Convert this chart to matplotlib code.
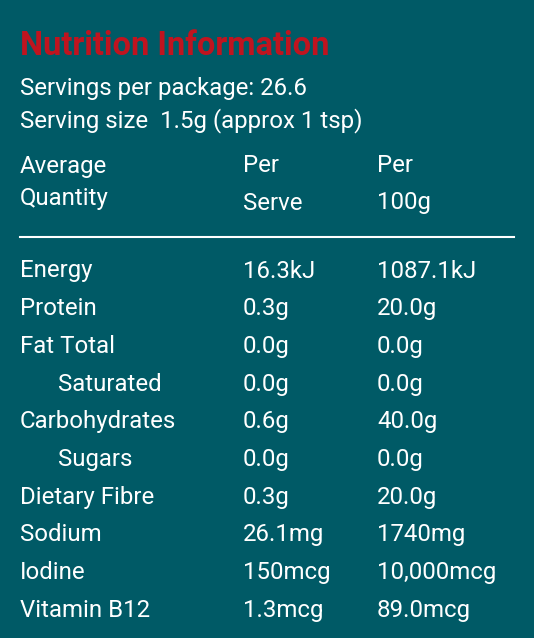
import matplotlib
matplotlib.use("Agg")
import matplotlib.pyplot as plt

title = "Nutrition Information"
servings = "Servings per package: 26.6"
serving_size = "Serving size  1.5g (approx 1 tsp)"
headers = [["Average", "Quantity"], ["Per", "Serve"], ["Per", "100g"]]
nutrients = ["Energy", "Protein", "Fat Total", "Saturated", "Carbohydrates", "Sugars",
             "Dietary Fibre", "Sodium", "Iodine", "Vitamin B12"]
indented = [False, False, False, True, False, True, False, False, False, False]
per_serve = ["16.3kJ", "0.3g", "0.0g", "0.0g", "0.6g", "0.0g", "0.3g", "26.1mg", "150mcg", "1.3mcg"]
per_100g = ["1087.1kJ", "20.0g", "0.0g", "0.0g", "40.0g", "0.0g", "20.0g", "1740mg", "10,000mcg", "89.0mcg"]

bg = "#005a66"
fig = plt.figure(figsize=(5.34, 6.38), dpi=100, facecolor=bg)
ax = fig.add_axes([0, 0, 1, 1])
ax.set_facecolor(bg)
ax.set_xlim(0, 534); ax.set_ylim(638, 0); ax.axis("off")
fam = ["Roboto", "DejaVu Sans"]
fs = 17.3
kw = dict(color="white", fontsize=fs, family=fam, va="center", ha="left")
ax.text(20, 46, title, color="#c0141f", fontsize=23.5, fontweight="bold", family=fam, va="center")
ax.text(20, 88, servings, **kw)
ax.text(20, 121, serving_size, **kw)
cols = [20, 243, 377]
for x, (a, b) in zip(cols, headers):
    ax.text(x, 166, a, **kw)
    ax.text(x, 203 if x != 20 else 199, b, **kw)
ax.plot([20, 514], [237, 237], color="white", lw=1.5)
y0, dy = 271, 37.7
for i, (n, ind, s, h) in enumerate(zip(nutrients, indented, per_serve, per_100g)):
    y = y0 + i * dy
    ax.text(58 if ind else 20, y, n, **kw)
    ax.text(243, y, s, **kw)
    ax.text(377, y, h, **kw)
fig.savefig("out.png", dpi=100, facecolor=bg)
